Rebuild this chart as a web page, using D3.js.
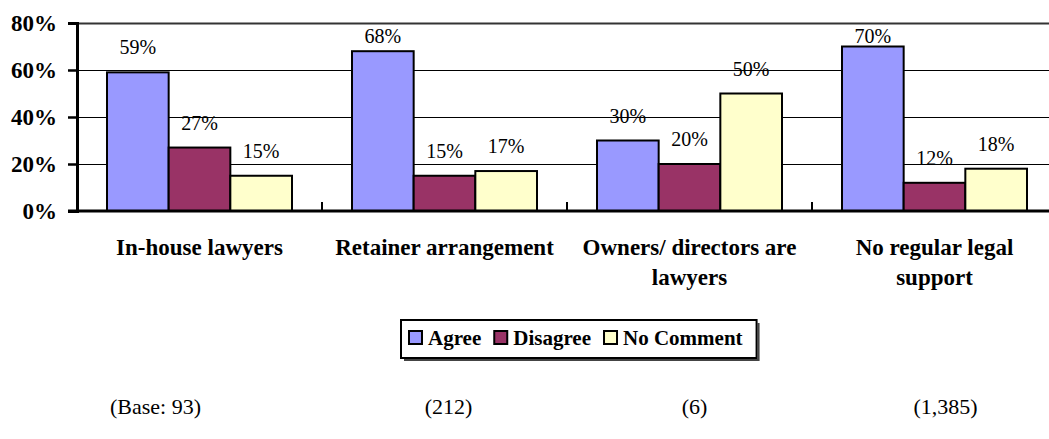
<!DOCTYPE html>
<html>
<head>
<meta charset="utf-8">
<script src="https://cdn.jsdelivr.net/npm/d3@7"></script>
<style>
  body { margin: 0; background: #fff; }
  svg { display: block; font-family: "Liberation Serif", "Times New Roman", serif; }
</style>
</head>
<body>
<svg width="1049" height="439"></svg>
<script>
// chart data
var categories = ["In-house lawyers", "Retainer arrangement", "Owners/ directors are lawyers", "No regular legal support"];
var categoryLines = [["In-house lawyers"], ["Retainer arrangement"], ["Owners/ directors are", "lawyers"], ["No regular legal", "support"]];
var seriesNames = ["Agree", "Disagree", "No Comment"];
var agree = [59, 68, 30, 70];
var disagree = [27, 15, 20, 12];
var noComment = [15, 17, 50, 18];
var baseLabels = ["(Base: 93)", "(212)", "(6)", "(1,385)"];
var yTicks = [0, 20, 40, 60, 80];

var colors = ["#9999FF", "#993366", "#FFFFCC"];
var seriesValues = [agree, disagree, noComment];

var svg = d3.select("svg");
var mLeft = 77, mTop = 23, mBottom = 211, bandW = 245;

var x = d3.scaleBand()
  .domain(categories)
  .range([mLeft, mLeft + bandW * categories.length])
  .paddingInner(0)
  .paddingOuter(0);

var y = d3.scaleLinear().domain([0, 80]).range([mBottom, mTop]);

var inner = d3.scaleBand()
  .domain(seriesNames)
  .range([30, bandW - 30]);

// gridlines
svg.append("g")
  .selectAll("line")
  .data(yTicks.filter(function(d) { return d > 0; }))
  .enter().append("line")
  .attr("x1", mLeft)
  .attr("x2", x.range()[1])
  .attr("y1", function(d) { return y(d) + 0.5; })
  .attr("y2", function(d) { return y(d) + 0.5; })
  .attr("stroke", function(d) { return d === 80 ? "#333" : "#000"; })
  .attr("stroke-width", function(d) { return d === 80 ? 2 : 1; });

// bars
var groups = svg.append("g")
  .selectAll("g")
  .data(categories)
  .enter().append("g")
  .attr("transform", function(d) { return "translate(" + x(d) + ",0)"; });

groups.selectAll("rect")
  .data(function(d, i) {
    return seriesNames.map(function(s, j) {
      return { series: s, value: seriesValues[j][i], color: colors[j] };
    });
  })
  .enter().append("rect")
  .attr("x", function(d) { return inner(d.series); })
  .attr("y", function(d) { return y(d.value); })
  .attr("width", inner.bandwidth())
  .attr("height", function(d) { return mBottom - y(d.value); })
  .attr("fill", function(d) { return d.color; })
  .attr("stroke", "#000")
  .attr("stroke-width", 2);

groups.selectAll("text")
  .data(function(d, i) {
    return seriesNames.map(function(s, j) {
      return { series: s, value: seriesValues[j][i] };
    });
  })
  .enter().append("text")
  .attr("x", function(d) { return inner(d.series) + inner.bandwidth() / 2; })
  .attr("y", function(d) { return Math.max(y(d.value) - 18, 43); })
  .attr("text-anchor", "middle")
  .attr("font-size", 20)
  .attr("fill", "#000")
  .text(function(d) { return d.value + "%"; });

// y axis
var yAxis = d3.axisLeft(y)
  .tickValues(yTicks)
  .tickSize(9)
  .tickPadding(11)
  .tickFormat(function(d) { return d + "%"; });

var yg = svg.append("g")
  .attr("transform", "translate(" + mLeft + ",0)")
  .call(yAxis);
yg.select(".domain").attr("stroke", "#000").attr("stroke-width", 3);
yg.selectAll(".tick line").attr("stroke", "#000").attr("stroke-width", 2.5);
yg.selectAll(".tick text")
  .attr("font-family", "Liberation Serif, Times New Roman, serif")
  .attr("font-size", 23)
  .attr("font-weight", "bold")
  .attr("fill", "#000");

// x axis baseline and category ticks
svg.append("line")
  .attr("x1", mLeft - 9).attr("x2", x.range()[1])
  .attr("y1", mBottom).attr("y2", mBottom)
  .attr("stroke", "#000").attr("stroke-width", 3);

svg.append("g")
  .selectAll("line")
  .data(categories.slice(1))
  .enter().append("line")
  .attr("x1", function(d) { return x(d); })
  .attr("x2", function(d) { return x(d); })
  .attr("y1", mBottom)
  .attr("y2", mBottom - 9)
  .attr("stroke", "#000")
  .attr("stroke-width", 2);

// category labels
var catText = svg.append("g")
  .selectAll("text")
  .data(categories)
  .enter().append("text")
  .attr("x", function(d) { return x(d) + bandW / 2; })
  .attr("y", 255)
  .attr("text-anchor", "middle")
  .attr("font-size", 23)
  .attr("font-weight", "bold")
  .attr("fill", "#000");

catText.selectAll("tspan")
  .data(function(d, i) { return categoryLines[i]; })
  .enter().append("tspan")
  .attr("x", function() { return x(d3.select(this.parentNode).datum()) + bandW / 2; })
  .attr("dy", function(d, i) { return i === 0 ? 0 : 30; })
  .text(function(d) { return d; });

// legend
var legend = svg.append("g");
var legendBox = legend.append("rect");
var lx = 409, ly = 331;
var items = legend.selectAll("g")
  .data(seriesNames)
  .enter().append("g");

items.append("rect")
  .attr("width", 13)
  .attr("height", 13)
  .attr("y", ly)
  .attr("fill", function(d, i) { return colors[i]; })
  .attr("stroke", "#000")
  .attr("stroke-width", 2);

items.append("text")
  .attr("y", ly + 14)
  .attr("font-size", 21)
  .attr("font-weight", "bold")
  .attr("fill", "#000")
  .text(function(d) { return d; });

var cursor = lx, lastEnd = lx;
items.each(function() {
  var g = d3.select(this);
  g.select("rect").attr("x", cursor);
  g.select("text").attr("x", cursor + 19);
  lastEnd = cursor + 19 + g.select("text").node().getComputedTextLength();
  cursor = lastEnd + 13;
});

var boxRight = lastEnd + 14;
legendBox
  .attr("x", 401)
  .attr("y", 320)
  .attr("width", boxRight - 401)
  .attr("height", 38)
  .attr("fill", "#fff")
  .attr("stroke", "#000")
  .attr("stroke-width", 2);

legend.insert("path", ":first-child")
  .attr("d", "M" + (401 + 3) + "," + (320 + 40) + "H" + (boxRight + 2) + "V" + (320 + 3))
  .attr("fill", "none")
  .attr("stroke", "#444")
  .attr("stroke-width", 2);

// base counts
var baseOffsets = [-44, 4, 5, 11];
svg.append("g")
  .selectAll("text")
  .data(baseLabels)
  .enter().append("text")
  .attr("x", function(d, i) { return x(categories[i]) + bandW / 2 + baseOffsets[i]; })
  .attr("y", 414)
  .attr("text-anchor", "middle")
  .attr("font-size", 22)
  .attr("fill", "#000")
  .text(function(d) { return d; });
</script>
</body>
</html>
